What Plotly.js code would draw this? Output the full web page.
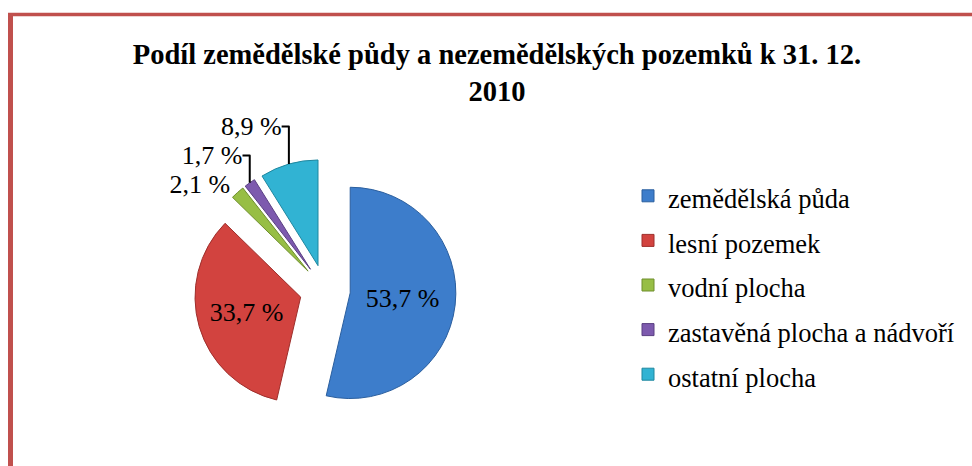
<!DOCTYPE html>
<html>
<head>
<meta charset="utf-8">
<script src="https://cdn.plot.ly/plotly-3.0.1.min.js"></script>
<style>html,body{margin:0;padding:0;background:#fff;}#chart{width:972px;height:466px;}</style>
</head>
<body>
<div id="chart"></div>
<script>
const categories = ['zemědělská půda', 'lesní pozemek', 'vodní plocha', 'zastavěná plocha a nádvoří', 'ostatní plocha'];
const shares = [53.7, 33.7, 2.1, 1.7, 8.9];
const sliceColors = ['#3D7DCB', '#D2433F', '#97BE45', '#7D5AAE', '#31B3D3'];
const edgeColors = ['#2A5E9E', '#9E2F2C', '#6E8E2C', '#5A3F82', '#1F879F'];
const labelPositions = ['inside', 'inside', 'outside', 'outside', 'outside'];

const SERIF = '"Liberation Serif", "Times New Roman", "DejaVu Serif", serif';
const labelText = shares.map(v => v.toFixed(1).replace('.', ',') + ' %');
const legendLabels = categories.map(c => '<span style="font-size:26.5px">' + c + '</span>');

const W = 972, H = 466;
const trace = {
  type: 'pie',
  labels: legendLabels,
  values: shares,
  text: labelText,
  texttemplate: '%{text}',
  textposition: labelPositions,
  sort: false,
  direction: 'clockwise',
  rotation: 0,
  pull: [0.24, 0.24, 0.24, 0.24, 0.24],
  marker: { colors: sliceColors, line: { color: edgeColors, width: 1 } },
  textfont: { family: SERIF, size: 26, color: '#000' },
  insidetextfont: { family: SERIF, size: 26, color: '#000' },
  outsidetextfont: { family: SERIF, size: 26, color: '#000' },
  insidetextorientation: 'horizontal',
  hoverinfo: 'none',
  domain: { x: [194 / W, 456 / W], y: [1 - 421 / H, 1 - 159 / H] }
};

const layout = {
  width: W, height: H,
  margin: { l: 0, r: 0, t: 0, b: 0 },
  paper_bgcolor: '#ffffff',
  font: { family: SERIF, color: '#000' },
  title: {
    text: '<b>Podíl zemědělské půdy a nezemědělských pozemků k 31. 12.<br>2010</b>',
    font: { family: SERIF, size: 28.5, color: '#000' },
    x: 497 / W, xanchor: 'center',
    y: 1 - 64 / H, yanchor: 'top', yref: 'container'
  },
  showlegend: true,
  legend: {
    x: 628 / W, xanchor: 'left',
    y: 1 - 285 / H, yanchor: 'middle',
    font: { family: SERIF, size: 32, color: '#000' },
    bgcolor: 'rgba(0,0,0,0)'
  },
  shapes: [
    { type: 'line', xref: 'paper', yref: 'paper', x0: 8 / W, x1: 1, y0: 1 - 14.5 / H, y1: 1 - 14.5 / H, line: { color: '#C0504D', width: 3.5 } },
    { type: 'line', xref: 'paper', yref: 'paper', x0: 10.5 / W, x1: 10.5 / W, y0: 1 - 13 / H, y1: 0, line: { color: '#C0504D', width: 5 } }
  ]
};

Plotly.newPlot('chart', [trace], layout, { displayModeBar: false, staticPlot: true });
</script>
</body>
</html>
